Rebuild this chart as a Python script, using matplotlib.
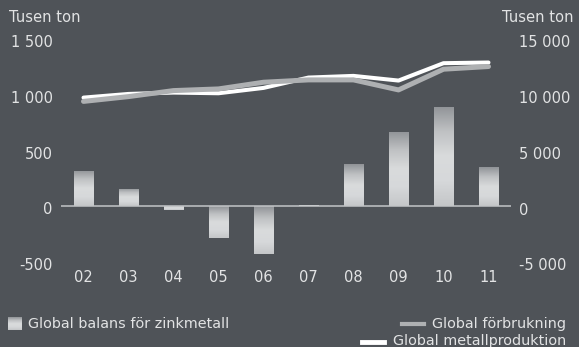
import numpy as np
import matplotlib.pyplot as plt
from matplotlib.colors import LinearSegmentedColormap
from matplotlib.patches import Rectangle
from matplotlib.lines import Line2D
from matplotlib.transforms import ScaledTranslation

bg = '#4f5358'
txt = '#e2e3e4'

years = ['02', '03', '04', '05', '06', '07', '08', '09', '10', '11']
balans = [315, 153, -40, -285, -428, 10, 377, 665, 889, 350]           # tusen ton, vänster axel
forbrukning = [9390, 9820, 10360, 10510, 11110, 11320, 11320, 10420, 12280, 12520]
produktion = [9730, 10060, 10180, 10120, 10600, 11530, 11680, 11260, 12820, 12880]

left_ticks = [-500, 0, 500, 1000, 1500]
left_labels = ['-500', '0', '500', '1 000', '1 500']
right_ticks = [-5000, 0, 5000, 10000, 15000]
right_labels = ['-5 000', '0', '5 000', '10 000', '15 000']

plt.rcParams['font.family'] = 'DejaVu Sans'

fig = plt.figure(figsize=(5.79, 3.47), dpi=100, facecolor=bg)
ax = fig.add_axes([61 / 579, 1 - 261.7 / 347, 450 / 579, 222.8 / 347])
ax.set_facecolor('none')
ax2 = ax.twinx()

x = np.arange(len(years))

# staplar med vertikal gradient
grad = LinearSegmentedColormap.from_list('g', ['#909397', '#bfc1c3', '#d9dbdc', '#d6d8da', '#c4c6c8'])
gimg = np.linspace(0, 1, 256).reshape(-1, 1)
bars = ax.bar(x, balans, width=0.44, color='none', zorder=2)
for b in bars:
    x0, w = b.get_x(), b.get_width()
    y0, h = b.get_y(), b.get_height()
    lo, hi = min(y0, y0 + h), max(y0, y0 + h)
    im = ax.imshow(gimg, cmap=grad, aspect='auto', extent=(x0, x0 + w, lo, hi),
                   origin='upper', zorder=2)
    im.set_clip_path(b)
ax.set_xlim(-0.5, len(years) - 0.5)
ax.set_ylim(-500, 1500)
ax2.set_ylim(-5000, 15000)

ax.axhline(0, color='#c3c5c7', lw=1.1, zorder=3)

ax2.plot(x, produktion, color='white', lw=2.9, solid_capstyle='round', zorder=4)
ax2.plot(x, forbrukning, color='#aeb0b2', lw=3.6, solid_capstyle='round', zorder=5)

for a in (ax, ax2):
    for s in a.spines.values():
        s.set_visible(False)
    a.tick_params(length=0, colors=txt, labelsize=10.5)

ax.set_xticks(x, years)
ax.tick_params(axis='x', pad=6)
ax.set_yticks(left_ticks, left_labels)
ax.tick_params(axis='y', pad=6)
ax2.set_yticks(right_ticks, right_labels)
ax2.tick_params(axis='y', pad=6)

# y-etiketterna sitter något under sina linjer
shift = ScaledTranslation(0, -2.5 / 100, fig.dpi_scale_trans)
for lab in ax.get_yticklabels() + ax2.get_yticklabels():
    lab.set_transform(lab.get_transform() + shift)

fig.text(9 / 579, 1 - 18 / 347, 'Tusen ton', color=txt, fontsize=10.6, va='center', ha='left')
fig.text(573 / 579, 1 - 18 / 347, 'Tusen ton', color=txt, fontsize=10.6, va='center', ha='right')

# teckenförklaring
sq = fig.add_axes([8 / 579, 1 - 330 / 347, 13 / 579, 13 / 347])
sq.imshow(gimg, cmap=grad, aspect='auto')
sq.set_axis_off()
fig.text(28 / 579, 1 - 324 / 347, 'Global balans för zinkmetall', color=txt,
         fontsize=10.4, va='center', ha='left')
fig.lines.append(Line2D([402 / 579, 424 / 579], [1 - 324 / 347] * 2, transform=fig.transFigure,
                        color='#aeb0b2', lw=3))
fig.text(432 / 579, 1 - 324 / 347, 'Global förbrukning', color=txt,
         fontsize=10.4, va='center', ha='left')
fig.lines.append(Line2D([362 / 579, 384 / 579], [1 - 341.5 / 347] * 2, transform=fig.transFigure,
                        color='white', lw=3.5))
fig.text(393 / 579, 1 - 341 / 347, 'Global metallproduktion', color=txt,
         fontsize=10.4, va='center', ha='left')

fig.savefig('out.png', dpi=100, facecolor=bg)
